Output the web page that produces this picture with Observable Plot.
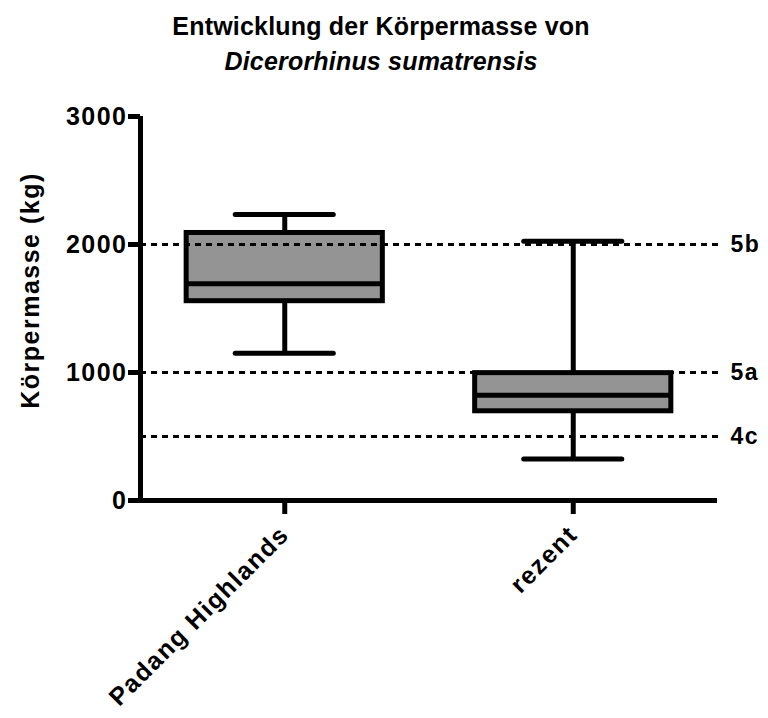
<!DOCTYPE html>
<html><head><meta charset="utf-8">
<script src="https://cdn.jsdelivr.net/npm/d3@7"></script>
<script src="https://cdn.jsdelivr.net/npm/@observablehq/plot@0.6"></script>
<style>
body{margin:0;background:#fff;font-family:"Liberation Sans",Arial,sans-serif;}
#title{width:762px;height:92px;box-sizing:border-box;padding-top:9px;text-align:center;font-size:25px;font-weight:bold;line-height:35px;color:#000;letter-spacing:0.2px;}
#chart svg text{letter-spacing:1.5px;}
</style></head><body>
<div id="chart"><div id="title">Entwicklung der Körpermasse von<br><i>Dicerorhinus sumatrensis</i></div></div>
<script>
const categories = ["Padang Highlands", "rezent"];
const whiskerLow = [1150, 325];
const quartile1 = [1557, 697];
const medians = [1694, 822];
const quartile3 = [2090, 995];
const whiskerHigh = [2235, 2025];
const refValues = [2000, 1000, 500];
const refLabels = ["5b", "5a", "4c"];
const yTicks = [0, 1000, 2000, 3000];
const yLabel = "Körpermasse (kg)";

const rows = categories.map((c, i) => ({i, c, lo: whiskerLow[i], q1: quartile1[i], med: medians[i], q3: quartile3[i], hi: whiskerHigh[i]}));
const refs = refValues.map((v, k) => ({v, label: refLabels[k]}));
const BOX = 0.34, CAP = 0.17;

const plot = Plot.plot({
  width: 768, height: 626,
  marginLeft: 140, marginRight: 51, marginTop: 24, marginBottom: 218,
  style: {fontFamily: '"Liberation Sans", Arial, sans-serif', color: "#000", background: "#fff", overflow: "visible"},
  x: {type: "linear", domain: [-0.5, 1.5], axis: null},
  y: {domain: [0, 3000], axis: null},
  marks: [
    Plot.ruleX(rows, {x: "i", y1: "lo", y2: "hi", strokeWidth: 5}),
    Plot.ruleY(rows, {y: "hi", x1: d => d.i - CAP, x2: d => d.i + CAP, strokeWidth: 5, strokeLinecap: "round"}),
    Plot.ruleY(rows, {y: "lo", x1: d => d.i - CAP, x2: d => d.i + CAP, strokeWidth: 5, strokeLinecap: "round"}),
    Plot.rectY(rows, {x1: d => d.i - BOX, x2: d => d.i + BOX, y1: "q1", y2: "q3", fill: "#949494", stroke: "#000", strokeWidth: 5}),
    Plot.ruleY(rows, {y: "med", x1: d => d.i - BOX, x2: d => d.i + BOX, strokeWidth: 5}),
    Plot.ruleY(refs, {y: "v", strokeWidth: 3, strokeDasharray: "6,5", insetRight: -5}),
    Plot.text(refs, {y: "v", text: "label", frameAnchor: "right", dx: 13, textAnchor: "start", fontSize: 23, fontWeight: "bold"}),
    Plot.ruleY([0], {strokeWidth: 5}),
    Plot.ruleX([-0.5], {strokeWidth: 5}),
    Plot.axisY({ticks: yTicks, tickSize: 12, strokeWidth: 5, tickPadding: 1, fontSize: 25, fontWeight: "bold", label: null, tickFormat: d => String(d)}),
    Plot.axisX({ticks: [0, 1], tickFormat: i => categories[i], tickSize: 14, strokeWidth: 5, tickRotate: -45, tickPadding: 16, fontSize: 25, fontWeight: "bold", label: null}),
    Plot.text([yLabel], {frameAnchor: "left", textAnchor: "middle", rotate: -90, dx: -110, dy: -18, fontSize: 25, fontWeight: "bold", text: d => d})
  ]
});
document.getElementById("chart").appendChild(plot);
</script>
</body></html>
